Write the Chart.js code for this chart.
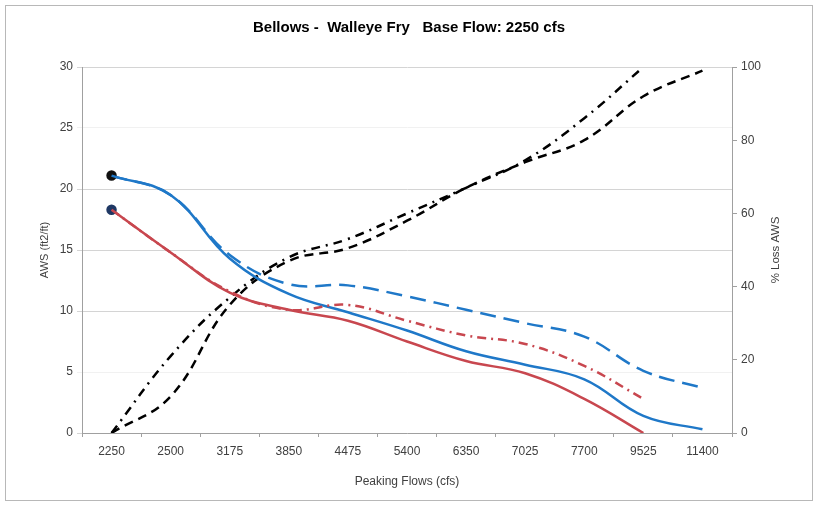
<!DOCTYPE html>
<html>
<head>
<meta charset="utf-8">
<script src="https://cdn.jsdelivr.net/npm/chart.js@4.4.1/dist/chart.umd.min.js"></script>
<style>
    html, body { margin: 0; padding: 0; background: #fff; }
    #frame { position: absolute; left: 5px; top: 5px; width: 806px; height: 494px; border: 1px solid #b8b8b8; }
    canvas { display: block; }
</style>
</head>
<body>
<div id="frame"><canvas id="chart" width="806" height="494"></canvas></div>
<script>
const flows = ['2250', '2500', '3175', '3850', '4475', '5400', '6350', '7025', '7700', '9525', '11400'];

// AWS (ft2/ft), left axis
const awsBlue = [21.1, 19.5, 14.3, 11.4, 9.9, 8.4, 6.7, 5.6, 4.4, 1.4, 0.3];
const awsRed = [18.3, 14.8, 11.5, 10.1, 9.2, 7.5, 5.9, 4.9, 2.8, 0, null];
const awsBlueDash = [21.1, 19.5, 14.6, 12.2, 12.1, 11.2, 10.1, 9.0, 7.9, 5.1, 3.7];
const awsRedDashDot = [18.3, 14.8, 11.6, 10.1, 10.5, 9.2, 8.0, 7.3, 5.5, 2.8, null];

// % Loss AWS, right axis
const lossDashDot = [0, 21, 37, 48, 53, 60, 67, 74.5, 86, 100, null];
const lossDash = [0, 10, 35, 47, 50.5, 58, 67, 74, 80, 92, 99];

const leftTicks = [0, 5, 10, 15, 20, 25, 30];
const rightTicks = [0, 20, 40, 60, 80, 100];

const BLUE = '#1f78c8';
const RED = '#c8474f';
const FONT = '"Liberation Sans", Arial, sans-serif';

const firstDot = (ctx) => ctx.dataIndex === 0 ? 4 : 0;

// the 5 and 25 lines barely show in the original
const gridColor = (ctx) => (ctx.tick && (ctx.tick.value === 5 || ctx.tick.value === 25)) ? '#f1f1f1' : '#d4d4d4';

const rightTitle = {
    id: 'rightTitle',
    afterDraw(chart) {
        const s = chart.scales.y1;
        const ctx = chart.ctx;
        ctx.save();
        ctx.translate(s.left + 44, (s.top + s.bottom) / 2);
        ctx.rotate(-Math.PI / 2);
        ctx.font = '11.5px ' + FONT;
        ctx.fillStyle = '#404040';
        ctx.textAlign = 'center';
        ctx.textBaseline = 'middle';
        ctx.fillText('% Loss AWS', 0, 0);
        ctx.restore();
    }
};

new Chart(document.getElementById('chart'), {
    type: 'line',
    data: {
        labels: flows,
        datasets: [
            {
                data: awsBlueDash, yAxisID: 'y', borderColor: BLUE, borderWidth: 2.5,
                borderDash: [16, 8], pointRadius: 0
            },
            {
                data: awsRedDashDot, yAxisID: 'y', borderColor: RED, borderWidth: 2.5,
                borderDash: [9, 5, 2, 5], pointRadius: 0
            },
            {
                data: awsBlue, yAxisID: 'y', borderColor: BLUE, borderWidth: 2.5,
                pointRadius: firstDot, pointBackgroundColor: '#111', pointBorderColor: '#111'
            },
            {
                data: awsRed, yAxisID: 'y', borderColor: RED, borderWidth: 2.5,
                pointRadius: firstDot, pointBackgroundColor: '#1f3864', pointBorderColor: '#1f3864'
            },
            {
                data: lossDashDot, yAxisID: 'y1', borderColor: '#000', borderWidth: 2.5,
                borderDash: [9, 6, 2, 6], pointRadius: 0
            },
            {
                data: lossDash, yAxisID: 'y1', borderColor: '#000', borderWidth: 2.5,
                borderDash: [9, 6], pointRadius: 0
            }
        ]
    },
    options: {
        responsive: false,
        devicePixelRatio: 1,
        animation: false,
        layout: { padding: 0 },
        elements: { line: { tension: 0.4 } },
        plugins: {
            legend: { display: false },
            tooltip: { enabled: false },
            title: {
                display: true,
                text: 'Bellows -  Walleye Fry   Base Flow: 2250 cfs',
                color: '#000',
                font: { family: FONT, size: 15, weight: 'bold' },
                padding: { top: 13, bottom: 30 }
            }
        },
        scales: {
            x: {
                offset: true,
                grid: { offset: true, drawOnChartArea: false, drawTicks: true, tickLength: 4, color: '#a0a0a0' },
                border: { color: '#a0a0a0' },
                ticks: { color: '#404040', font: { family: FONT, size: 12 }, padding: 7, maxRotation: 0, autoSkip: false },
                title: { display: true, text: 'Peaking Flows (cfs)', color: '#404040', font: { family: FONT, size: 12 }, padding: { top: 0, bottom: 11 } },
                afterFit: (s) => { s.height = 67; }
            },
            y: {
                position: 'left',
                min: 0, max: 30,
                afterBuildTicks: (s) => { s.ticks = leftTicks.map(v => ({ value: v })); },
                grid: { color: gridColor, tickLength: 5 },
                border: { color: '#a0a0a0' },
                ticks: { color: '#404040', font: { family: FONT, size: 12 }, padding: 4 },
                title: { display: true, text: 'AWS (ft2/ft)', color: '#404040', font: { family: FONT, size: 11 }, padding: { top: 32, bottom: 0 } },
                afterFit: (s) => { s.width = 76; }
            },
            y1: {
                position: 'right',
                min: 0, max: 100,
                afterBuildTicks: (s) => { s.ticks = rightTicks.map(v => ({ value: v })); },
                grid: { drawOnChartArea: false, color: '#a0a0a0', tickLength: 5 },
                border: { color: '#a0a0a0' },
                ticks: { color: '#404040', font: { family: FONT, size: 12 }, padding: 4 },
                afterFit: (s) => { s.width = 80; }
            }
        }
    },
    plugins: [rightTitle]
});
</script>
</body>
</html>
